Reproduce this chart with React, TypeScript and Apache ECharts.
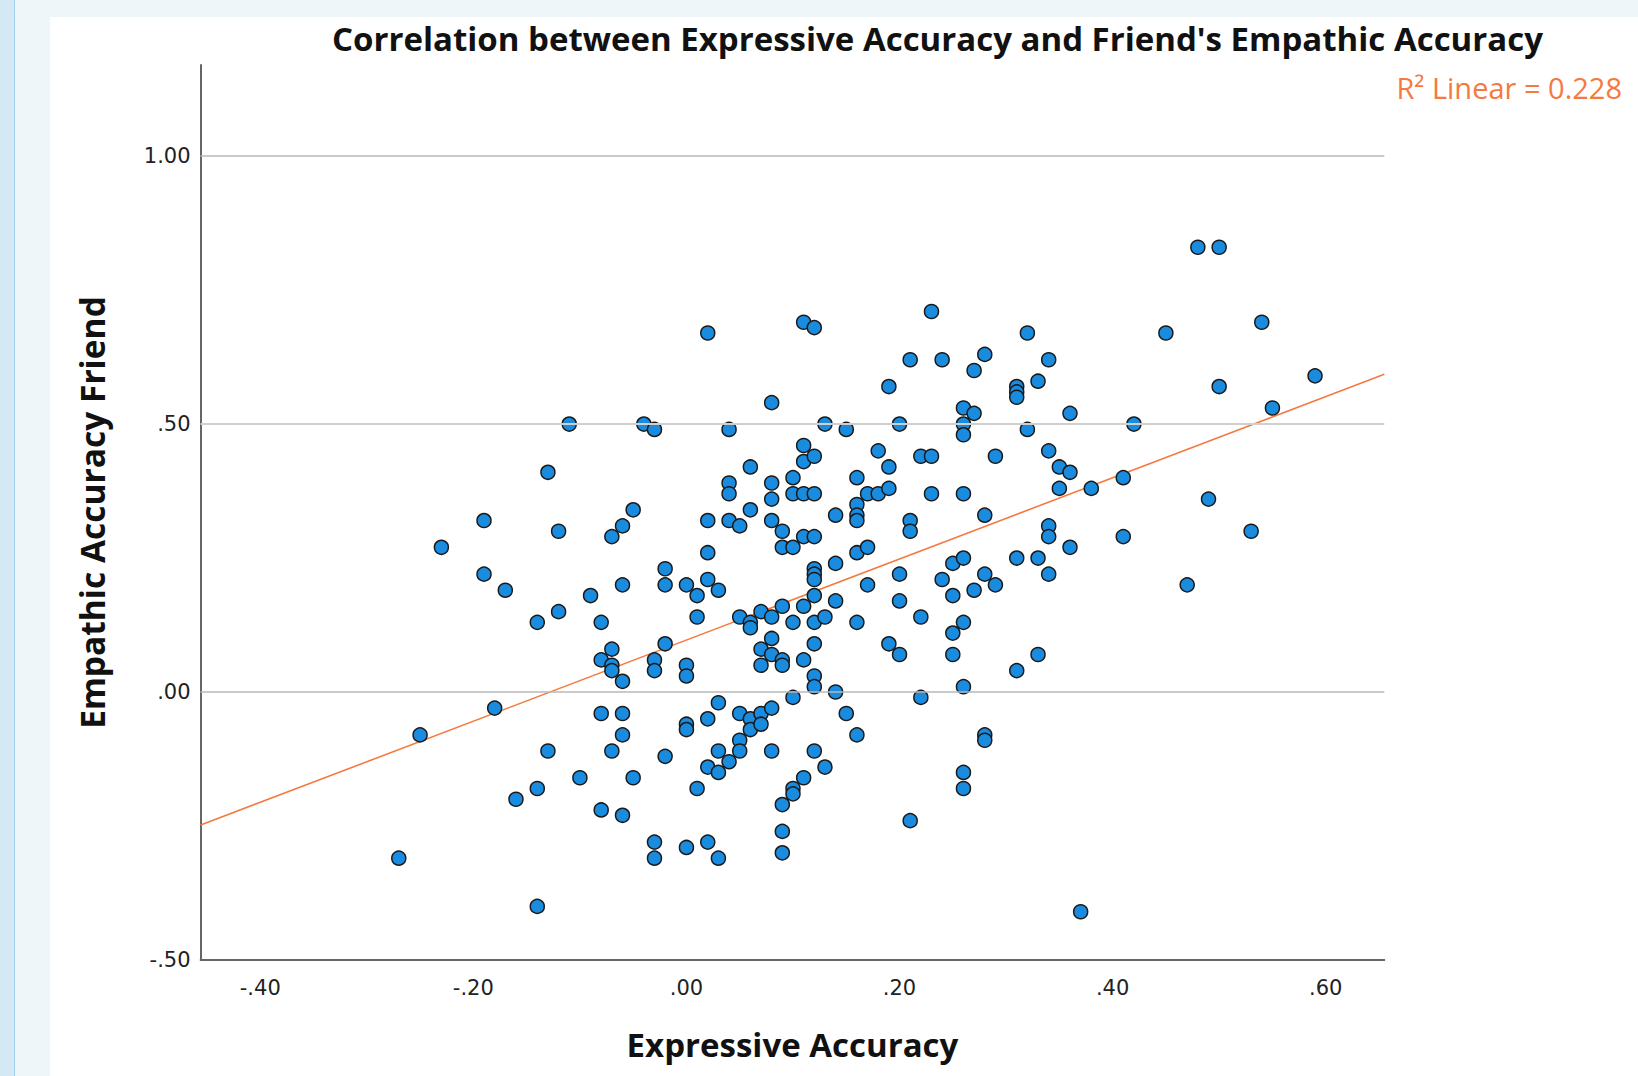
import React, { useEffect, useRef } from 'react';
import * as echarts from 'echarts';

const chartTitle = "Correlation between Expressive Accuracy and Friend's Empathic Accuracy";
const xAxisTitle = 'Expressive Accuracy';
const yAxisTitle = 'Empathic Accuracy Friend';
const fitLabel = 'R\u00B2 Linear = 0.228';

const xTicks = [-0.4, -0.2, 0, 0.2, 0.4, 0.6];
const yTicks = [-0.5, 0, 0.5, 1.0];
const gridValues = [0, 0.5, 1.0];
const xRange = [-0.456, 0.655];
const yRange = [-0.5, 1.17];

// fit line
const fitIntercept = 0.097;
const fitSlope = 0.757;

// [Expressive Accuracy, Empathic Accuracy Friend]
const points: [number, number][] = [
  [-0.27, -0.31], [-0.25, -0.08], [-0.23, 0.27],
  [-0.19, 0.32], [-0.19, 0.22], [-0.18, -0.03], [-0.17, 0.19], [-0.16, -0.2],
  [-0.14, 0.13], [-0.14, -0.18], [-0.14, -0.4],
  [-0.13, 0.41], [-0.13, -0.11], [-0.12, 0.3], [-0.12, 0.15], [-0.11, 0.5],
  [-0.1, -0.16], [-0.09, 0.18],
  [-0.08, 0.13], [-0.08, 0.06], [-0.08, -0.04], [-0.08, -0.22],
  [-0.07, 0.29], [-0.07, 0.08], [-0.07, 0.05], [-0.07, 0.04], [-0.07, -0.11],
  [-0.06, 0.31], [-0.06, 0.2], [-0.06, 0.02], [-0.06, -0.04], [-0.06, -0.08], [-0.06, -0.23],
  [-0.05, 0.34], [-0.05, -0.16], [-0.04, 0.5],
  [-0.03, 0.49], [-0.03, 0.06], [-0.03, 0.04], [-0.03, -0.28], [-0.03, -0.31],
  [-0.02, 0.23], [-0.02, 0.2], [-0.02, 0.09], [-0.02, -0.12],
  [0.0, 0.2], [0.0, 0.05], [0.0, 0.03], [0.0, -0.06], [0.0, -0.07], [0.0, -0.29],
  [0.01, 0.18], [0.01, 0.14], [0.01, -0.18],
  [0.02, 0.67], [0.02, 0.32], [0.02, 0.26], [0.02, 0.21], [0.02, -0.05], [0.02, -0.14], [0.02, -0.28],
  [0.03, 0.19], [0.03, -0.02], [0.03, -0.11], [0.03, -0.15], [0.03, -0.31],
  [0.04, 0.49], [0.04, 0.39], [0.04, 0.37], [0.04, 0.32], [0.04, -0.13],
  [0.05, 0.31], [0.05, 0.14], [0.05, -0.04], [0.05, -0.09], [0.05, -0.11],
  [0.06, 0.42], [0.06, 0.34], [0.06, 0.13], [0.06, 0.12], [0.06, -0.05], [0.06, -0.07],
  [0.07, 0.15], [0.07, 0.08], [0.07, 0.05], [0.07, -0.04], [0.07, -0.06],
  [0.08, 0.54], [0.08, 0.39], [0.08, 0.36], [0.08, 0.32], [0.08, 0.14], [0.08, 0.1], [0.08, 0.07], [0.08, -0.03], [0.08, -0.11],
  [0.09, 0.3], [0.09, 0.27], [0.09, 0.16], [0.09, 0.06], [0.09, 0.05], [0.09, -0.21], [0.09, -0.26], [0.09, -0.3],
  [0.1, 0.4], [0.1, 0.37], [0.1, 0.27], [0.1, 0.13], [0.1, -0.01], [0.1, -0.18], [0.1, -0.19],
  [0.11, 0.69], [0.11, 0.46], [0.11, 0.43], [0.11, 0.37], [0.11, 0.29], [0.11, 0.16], [0.11, 0.06], [0.11, -0.16],
  [0.12, 0.68], [0.12, 0.44], [0.12, 0.37], [0.12, 0.29], [0.12, 0.23], [0.12, 0.22], [0.12, 0.21], [0.12, 0.18], [0.12, 0.13], [0.12, 0.09], [0.12, 0.03], [0.12, 0.01], [0.12, -0.11],
  [0.13, 0.5], [0.13, 0.14], [0.13, -0.14],
  [0.14, 0.33], [0.14, 0.24], [0.14, 0.17], [0.14, 0.0],
  [0.15, 0.49], [0.15, -0.04],
  [0.16, 0.4], [0.16, 0.35], [0.16, 0.33], [0.16, 0.32], [0.16, 0.26], [0.16, 0.13], [0.16, -0.08],
  [0.17, 0.37], [0.17, 0.27], [0.17, 0.2],
  [0.18, 0.45], [0.18, 0.37],
  [0.19, 0.57], [0.19, 0.42], [0.19, 0.38], [0.19, 0.09],
  [0.2, 0.5], [0.2, 0.22], [0.2, 0.17], [0.2, 0.07],
  [0.21, 0.62], [0.21, 0.32], [0.21, 0.3], [0.21, -0.24],
  [0.22, 0.44], [0.22, 0.14], [0.22, -0.01],
  [0.23, 0.71], [0.23, 0.44], [0.23, 0.37],
  [0.24, 0.62], [0.24, 0.21],
  [0.25, 0.24], [0.25, 0.18], [0.25, 0.11], [0.25, 0.07],
  [0.26, 0.53], [0.26, 0.5], [0.26, 0.48], [0.26, 0.37], [0.26, 0.25], [0.26, 0.13], [0.26, 0.01], [0.26, -0.15], [0.26, -0.18],
  [0.27, 0.6], [0.27, 0.52], [0.27, 0.19],
  [0.28, 0.63], [0.28, 0.33], [0.28, 0.22], [0.28, -0.08], [0.28, -0.09],
  [0.29, 0.44], [0.29, 0.2],
  [0.31, 0.57], [0.31, 0.56], [0.31, 0.55], [0.31, 0.25], [0.31, 0.04],
  [0.32, 0.67], [0.32, 0.49],
  [0.33, 0.58], [0.33, 0.25], [0.33, 0.07],
  [0.34, 0.62], [0.34, 0.45], [0.34, 0.31], [0.34, 0.29], [0.34, 0.22],
  [0.35, 0.42], [0.35, 0.38],
  [0.36, 0.52], [0.36, 0.41], [0.36, 0.27],
  [0.37, -0.41], [0.38, 0.38],
  [0.41, 0.4], [0.41, 0.29], [0.42, 0.5], [0.45, 0.67], [0.47, 0.2],
  [0.48, 0.83], [0.49, 0.36], [0.5, 0.83], [0.5, 0.57],
  [0.53, 0.3], [0.54, 0.69], [0.55, 0.53], [0.59, 0.59],
];

const fmt = (v: number): string => {
  const s = v.toFixed(2);
  return Math.abs(v) < 1 ? s.replace('0.', '.') : s;
};

export default function App() {
  const ref = useRef<HTMLDivElement>(null);

  useEffect(() => {
    document.body.style.margin = '0';
    if (!ref.current) return;
    const chart = echarts.init(ref.current, null, { renderer: 'svg' });

    const fitData = xRange.map((x) => [x, fitIntercept + fitSlope * x]);

    const option = {
      animation: false,
      backgroundColor: '#ffffff',
      textStyle: { fontFamily: 'Open Sans' },
      graphic: [
        { type: 'rect', z: 0, shape: { x: 0, y: 0, width: 15, height: 1076 }, style: { fill: '#d4e9f3' } },
        { type: 'rect', z: 0, shape: { x: 14, y: 0, width: 1.2, height: 1076 }, style: { fill: '#9fd0ea' } },
        { type: 'rect', z: 0, shape: { x: 15.2, y: 0, width: 35, height: 1076 }, style: { fill: '#eef6fa' } },
        { type: 'rect', z: 0, shape: { x: 15.2, y: 0, width: 1623, height: 17 }, style: { fill: '#eff6fa' } },
      ],
      title: [
        {
          text: chartTitle,
          left: 937.5,
          top: 22,
          textAlign: 'center',
          padding: 0,
          textStyle: { fontFamily: 'Open Sans', fontWeight: 'bold', fontSize: 33, color: '#111111' },
        },
        {
          text: fitLabel,
          right: 16,
          top: 73,
          padding: 0,
          textStyle: { fontFamily: 'Open Sans', fontWeight: 'normal', fontSize: 29, color: '#f47a3f' },
        },
      ],
      grid: { left: 200.6, right: 253.7, top: 65, bottom: 116, containLabel: false },
      xAxis: {
        type: 'value',
        min: xRange[0],
        max: xRange[1],
        axisLine: { show: true, onZero: false, lineStyle: { color: '#666666', width: 2 } },
        axisTick: { show: false },
        splitLine: { show: false },
        axisLabel: {
          customValues: xTicks,
          formatter: fmt,
          fontFamily: 'DejaVu Sans',
          fontSize: 21,
          color: '#222222',
          margin: 17,
        },
        name: xAxisTitle,
        nameLocation: 'middle',
        nameGap: 68,
        nameTextStyle: { fontFamily: 'Open Sans', fontWeight: 'bold', fontSize: 33, color: '#111111' },
      },
      yAxis: {
        type: 'value',
        min: yRange[0],
        max: yRange[1],
        axisLine: { show: true, onZero: false, lineStyle: { color: '#666666', width: 2 } },
        axisTick: { show: false },
        splitLine: { show: false },
        axisLabel: {
          customValues: yTicks,
          formatter: fmt,
          fontFamily: 'DejaVu Sans',
          fontSize: 21,
          color: '#222222',
          margin: 10,
        },
        name: yAxisTitle,
        nameLocation: 'middle',
        nameGap: 92,
        nameRotate: 90,
        nameTextStyle: { fontFamily: 'Open Sans', fontWeight: 'bold', fontSize: 33.5, color: '#111111' },
      },
      series: [
        {
          type: 'line',
          data: [],
          silent: true,
          z: 1,
          markLine: {
            silent: true,
            symbol: ['none', 'none'],
            label: { show: false },
            animation: false,
            data: gridValues.map((v) => ({
              yAxis: v,
              lineStyle: {
                type: 'solid',
                color: v === 0.5 ? '#cfcfcf' : '#b9b9b9',
                width: v === 0.5 ? 2.2 : 1.5,
              },
            })),
          },
        },
        {
          type: 'line',
          data: fitData,
          showSymbol: false,
          silent: true,
          z: 2,
          lineStyle: { color: '#f47a3f', width: 1.6 },
        },
        {
          type: 'scatter',
          data: points,
          symbol: 'circle',
          symbolSize: 14,
          z: 3,
          itemStyle: { color: '#1a8ce0', borderColor: '#1a1a1a', borderWidth: 1.5, opacity: 1 },
        },
      ],
    };

    chart.setOption(option as any);
    return () => chart.dispose();
  }, []);

  return <div ref={ref} style={{ position: 'absolute', left: 0, top: 0, width: 1638, height: 1076 }} />;
}
